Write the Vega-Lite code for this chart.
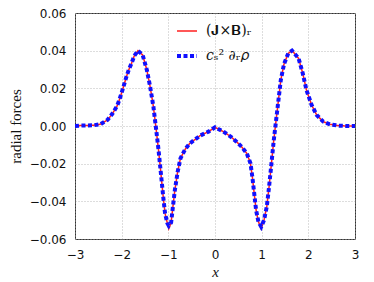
{
  "$schema": "https://vega.github.io/schema/vega-lite/v6.json",
  "width": 280,
  "height": 226,
  "autosize": {"type": "none"},
  "padding": {"left": 75, "top": 13, "right": 19, "bottom": 43},
  "background": "white",
  "config": {
    "view": {"stroke": "#333", "strokeWidth": 1},
    "axis": {
      "labelFont": "DejaVu Sans",
      "labelFontSize": 12,
      "labelColor": "#111",
      "labelFlush": false,
      "labelOverlap": false,
      "titleFont": "Liberation Serif",
      "titleFontSize": 15,
      "titleFontWeight": "normal",
      "titleColor": "#111",
      "grid": true,
      "gridColor": "#aaa",
      "gridDash": [1, 2],
      "gridWidth": 0.8,
      "domain": false,
      "ticks": false
    }
  },
  "data": {
    "values": [
      {"x": -3.0, "jxb": 0.0000, "grad": 0.0000},
      {"x": -2.9, "jxb": 0.0002, "grad": 0.0002},
      {"x": -2.75, "jxb": 0.0003, "grad": 0.0003},
      {"x": -2.6, "jxb": 0.0004, "grad": 0.0004},
      {"x": -2.45, "jxb": 0.0010, "grad": 0.0010},
      {"x": -2.3, "jxb": 0.0033, "grad": 0.0033},
      {"x": -2.2, "jxb": 0.0065, "grad": 0.0065},
      {"x": -2.1, "jxb": 0.0105, "grad": 0.0105},
      {"x": -2.05, "jxb": 0.0138, "grad": 0.0138},
      {"x": -2.0, "jxb": 0.0177, "grad": 0.0177},
      {"x": -1.95, "jxb": 0.0218, "grad": 0.0218},
      {"x": -1.9, "jxb": 0.0260, "grad": 0.0260},
      {"x": -1.85, "jxb": 0.0297, "grad": 0.0297},
      {"x": -1.79, "jxb": 0.0332, "grad": 0.0332},
      {"x": -1.73, "jxb": 0.0372, "grad": 0.0372},
      {"x": -1.65, "jxb": 0.0400, "grad": 0.0400},
      {"x": -1.55, "jxb": 0.0377, "grad": 0.0377},
      {"x": -1.46, "jxb": 0.0297, "grad": 0.0297},
      {"x": -1.39, "jxb": 0.0209, "grad": 0.0209},
      {"x": -1.32, "jxb": 0.0103, "grad": 0.0103},
      {"x": -1.26, "jxb": -0.0020, "grad": -0.0020},
      {"x": -1.21, "jxb": -0.0127, "grad": -0.0127},
      {"x": -1.16, "jxb": -0.0250, "grad": -0.0250},
      {"x": -1.11, "jxb": -0.0375, "grad": -0.0375},
      {"x": -1.07, "jxb": -0.0464, "grad": -0.0464},
      {"x": -1.02, "jxb": -0.0517, "grad": -0.0517},
      {"x": -0.99, "jxb": -0.0545, "grad": -0.0530},
      {"x": -0.94, "jxb": -0.0513, "grad": -0.0513},
      {"x": -0.91, "jxb": -0.0446, "grad": -0.0446},
      {"x": -0.86, "jxb": -0.0340, "grad": -0.0340},
      {"x": -0.80, "jxb": -0.0243, "grad": -0.0243},
      {"x": -0.74, "jxb": -0.0172, "grad": -0.0172},
      {"x": -0.64, "jxb": -0.0124, "grad": -0.0124},
      {"x": -0.54, "jxb": -0.0092, "grad": -0.0092},
      {"x": -0.39, "jxb": -0.0065, "grad": -0.0065},
      {"x": -0.32, "jxb": -0.0051, "grad": -0.0051},
      {"x": -0.14, "jxb": -0.0030, "grad": -0.0030},
      {"x": 0.0, "jxb": -0.0007, "grad": -0.0007},
      {"x": 0.18, "jxb": -0.0030, "grad": -0.0030},
      {"x": 0.34, "jxb": -0.0057, "grad": -0.0057},
      {"x": 0.46, "jxb": -0.0083, "grad": -0.0083},
      {"x": 0.57, "jxb": -0.0110, "grad": -0.0110},
      {"x": 0.68, "jxb": -0.0145, "grad": -0.0145},
      {"x": 0.76, "jxb": -0.0198, "grad": -0.0198},
      {"x": 0.80, "jxb": -0.0270, "grad": -0.0270},
      {"x": 0.84, "jxb": -0.0357, "grad": -0.0357},
      {"x": 0.88, "jxb": -0.0446, "grad": -0.0446},
      {"x": 0.93, "jxb": -0.0508, "grad": -0.0508},
      {"x": 0.99, "jxb": -0.0545, "grad": -0.0535},
      {"x": 1.05, "jxb": -0.0500, "grad": -0.0500},
      {"x": 1.11, "jxb": -0.0428, "grad": -0.0428},
      {"x": 1.16, "jxb": -0.0320, "grad": -0.0320},
      {"x": 1.21, "jxb": -0.0198, "grad": -0.0198},
      {"x": 1.26, "jxb": -0.0074, "grad": -0.0074},
      {"x": 1.31, "jxb": 0.0032, "grad": 0.0032},
      {"x": 1.36, "jxb": 0.0138, "grad": 0.0138},
      {"x": 1.41, "jxb": 0.0244, "grad": 0.0244},
      {"x": 1.48, "jxb": 0.0330, "grad": 0.0330},
      {"x": 1.57, "jxb": 0.0386, "grad": 0.0386},
      {"x": 1.65, "jxb": 0.0400, "grad": 0.0400},
      {"x": 1.79, "jxb": 0.0360, "grad": 0.0360},
      {"x": 1.88, "jxb": 0.0280, "grad": 0.0280},
      {"x": 1.96, "jxb": 0.0191, "grad": 0.0191},
      {"x": 2.07, "jxb": 0.0112, "grad": 0.0112},
      {"x": 2.18, "jxb": 0.0058, "grad": 0.0058},
      {"x": 2.32, "jxb": 0.0023, "grad": 0.0023},
      {"x": 2.46, "jxb": 0.0009, "grad": 0.0009},
      {"x": 2.64, "jxb": 0.0002, "grad": 0.0002},
      {"x": 2.82, "jxb": 0.0000, "grad": 0.0000},
      {"x": 3.0, "jxb": 0.0000, "grad": 0.0000}
    ]
  },
  "transform": [{"fold": ["jxb", "grad"], "as": ["series", "value"]}],
  "encoding": {
    "x": {
      "field": "x", "type": "quantitative",
      "scale": {"domain": [-3, 3], "nice": false},
      "axis": {"values": [-3, -2, -1, 0, 1, 2, 3], "labelOverlap": false, "labelPadding": 10, "title": "x", "titleFontStyle": "italic", "titlePadding": 4}
    },
    "y": {
      "field": "value", "type": "quantitative",
      "scale": {"domain": [-0.06, 0.06], "nice": false, "zero": false},
      "axis": {"values": [-0.06, -0.04, -0.02, 0, 0.02, 0.04, 0.06], "format": ".2f", "labelOverlap": false, "labelPadding": 9, "title": "radial forces", "titlePadding": 6}
    },
    "color": {"field": "series", "type": "nominal",
      "scale": {"domain": ["jxb", "grad"], "range": ["#ff2020", "#1010ff"]},
      "legend": {"orient": "none", "legendX": 100, "legendY": 7, "title": null, "symbolType": "stroke", "symbolSize": 400, "labelFont": "DejaVu Serif", "labelFontSize": 14, "labelColor": "#111", "rowPadding": 6, "labelOffset": 7,
        "labelExpr": "datum.label == 'jxb' ? '(𝐉×𝐁)ᵣ' : '𝑐ₛ² ∂ᵣ𝜌'"}},
    "strokeDash": {"field": "series", "type": "nominal",
      "scale": {"domain": ["jxb", "grad"], "range": [[1, 0], [4, 2.5]]}},
    "strokeWidth": {"field": "series", "type": "ordinal",
      "scale": {"domain": ["jxb", "grad"], "range": [1.5, 4]}}
  },
  "layer": [
    {
      "transform": [{"filter": "datum.series == 'jxb'"}],
      "mark": {"type": "line", "strokeCap": "butt", "clip": true}
    },
    {
      "transform": [{"filter": "datum.series == 'grad'"}],
      "mark": {"type": "line", "strokeCap": "butt", "clip": true}
    }
  ]
}
